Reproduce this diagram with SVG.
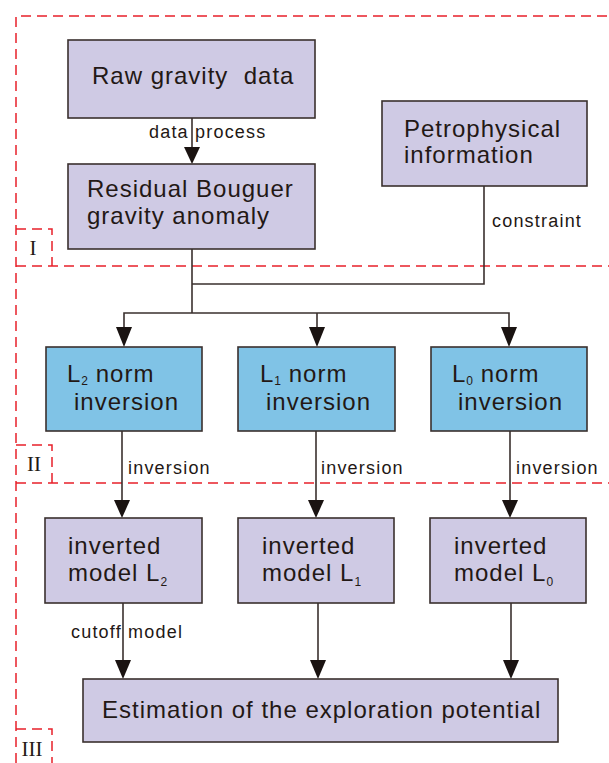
<svg xmlns="http://www.w3.org/2000/svg" width="609" height="763" viewBox="0 0 609 763">
<defs>
<style>
.box{fill:#cfcae4;stroke:#3a302e;stroke-width:1.6}
.blue{fill:#80c3e6;stroke:#3a302e;stroke-width:1.6}
.t{font-family:"Liberation Sans",Arial,sans-serif;font-size:24px;letter-spacing:1px;fill:#231815}
.s{font-family:"Liberation Sans",Arial,sans-serif;font-size:12px;letter-spacing:0;fill:#231815}
.lbl{font-family:"Liberation Sans",Arial,sans-serif;font-size:18px;letter-spacing:1.2px;fill:#231815}
.rom{font-family:"Liberation Serif","Times New Roman",serif;font-size:21px;fill:#231815}
.dash{fill:none;stroke:#e8202a;stroke-width:1.5;stroke-dasharray:10,6}
.ln{fill:none;stroke:#3a302e;stroke-width:1.6}
</style>
</defs>
<g id="sections">
<path class="dash" d="M16,763 V16 H609"/>
<path class="dash" d="M16,266 H609"/>
<path class="dash" d="M16,483 H609"/>
<path class="dash" d="M16,229 H52 V266"/>
<path class="dash" d="M16,445 H52 V483"/>
<path class="dash" d="M16,729 H52 V763"/>
<text class="rom" x="33" y="255" text-anchor="middle">I</text>
<text class="rom" x="34" y="471" text-anchor="middle">II</text>
<text class="rom" x="32" y="756" text-anchor="middle">III</text>
</g>
<g id="connectors">
<line class="ln" x1="192" y1="118" x2="192" y2="150"/>
<path d="M184,147 L192,164 L200,147 Z" fill="#1a1311"/>
<path class="ln" d="M192,249 V313"/>
<path class="ln" d="M484,186 V284 H192"/>
<path class="ln" d="M124,330 V313 H509 V330"/>
<path class="ln" d="M317,313 V330"/>
<path d="M116,327 L124,347 L132,327 Z" fill="#1a1311"/>
<path d="M309,327 L317,347 L325,327 Z" fill="#1a1311"/>
<path d="M501,327 L509,347 L517,327 Z" fill="#1a1311"/>
<path class="ln" d="M122,431 V503"/>
<path class="ln" d="M316,431 V503"/>
<path class="ln" d="M510,431 V503"/>
<path d="M114,500 L122,518 L130,500 Z" fill="#1a1311"/>
<path d="M308,500 L316,518 L324,500 Z" fill="#1a1311"/>
<path d="M502,500 L510,518 L518,500 Z" fill="#1a1311"/>
<path class="ln" d="M123,603 V663"/>
<path class="ln" d="M318,603 V663"/>
<path class="ln" d="M511,603 V663"/>
<path d="M115,660 L123,679 L131,660 Z" fill="#1a1311"/>
<path d="M310,660 L318,679 L326,660 Z" fill="#1a1311"/>
<path d="M503,660 L511,679 L519,660 Z" fill="#1a1311"/>
<text class="lbl" x="149" y="138">data process</text>
<text class="lbl" x="492" y="227">constraint</text>
<text class="lbl" x="128" y="474">inversion</text>
<text class="lbl" x="321" y="474">inversion</text>
<text class="lbl" x="516" y="474">inversion</text>
<text class="lbl" x="71" y="638">cutoff model</text>
</g>
<g id="raw">
<rect class="box" x="68" y="40" width="247" height="78"/>
<text class="t" x="92" y="84">Raw gravity&#160; data</text>
</g>
<g id="residual">
<rect class="box" x="68" y="164" width="247" height="85"/>
<text class="t" x="87" y="197">Residual Bouguer</text>
<text class="t" x="87" y="224">gravity anomaly</text>
</g>
<g id="petro">
<rect class="box" x="382" y="101" width="205" height="85"/>
<text class="t" x="404" y="137">Petrophysical</text>
<text class="t" x="404" y="163">information</text>
</g>
<g id="l2inv">
<rect class="blue" x="46" y="347" width="156" height="84"/>
<text class="t" x="67" y="382">L<tspan class="s" dy="3">2</tspan><tspan dy="-3"> norm</tspan></text>
<text class="t" x="74" y="410">inversion</text>
</g>
<g id="l1inv">
<rect class="blue" x="238" y="347" width="157" height="84"/>
<text class="t" x="260" y="382">L<tspan class="s" dy="3">1</tspan><tspan dy="-3"> norm</tspan></text>
<text class="t" x="266" y="410">inversion</text>
</g>
<g id="l0inv">
<rect class="blue" x="431" y="347" width="156" height="84"/>
<text class="t" x="452" y="382">L<tspan class="s" dy="3">0</tspan><tspan dy="-3"> norm</tspan></text>
<text class="t" x="458" y="410">inversion</text>
</g>
<g id="m2">
<rect class="box" x="45" y="518" width="157" height="85"/>
<text class="t" x="68" y="554">inverted</text>
<text class="t" x="68" y="581">model L<tspan class="s" dy="5">2</tspan></text>
</g>
<g id="m1">
<rect class="box" x="238" y="518" width="156" height="85"/>
<text class="t" x="262" y="554">inverted</text>
<text class="t" x="262" y="581">model L<tspan class="s" dy="5">1</tspan></text>
</g>
<g id="m0">
<rect class="box" x="430" y="518" width="156" height="85"/>
<text class="t" x="454" y="554">inverted</text>
<text class="t" x="454" y="581">model L<tspan class="s" dy="5">0</tspan></text>
</g>
<g id="estimation">
<rect class="box" x="83" y="679" width="475" height="63"/>
<text class="t" x="102" y="718">Estimation of the exploration potential</text>
</g>
</svg>
